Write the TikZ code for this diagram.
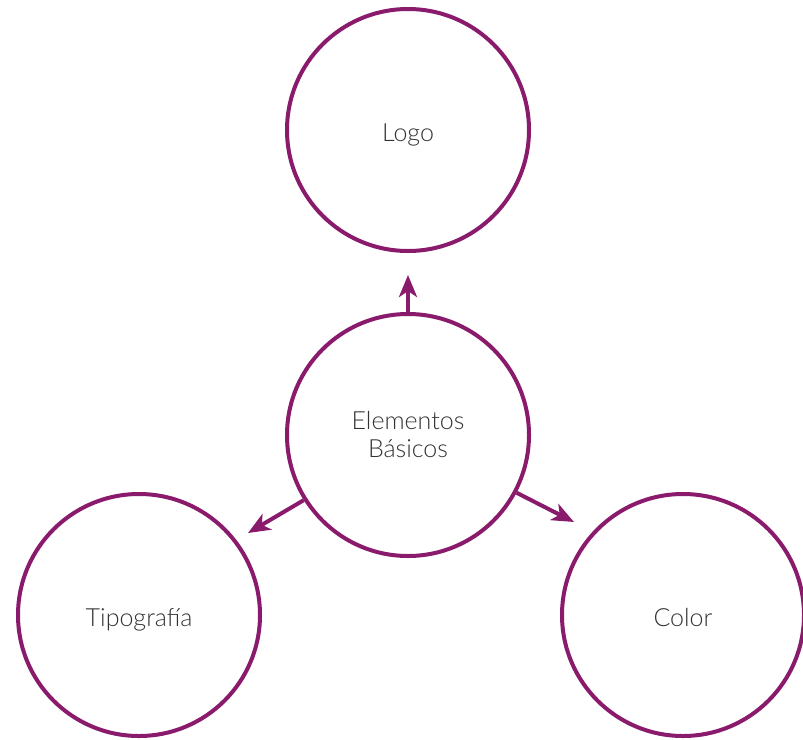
\documentclass[tikz,border=0pt]{standalone}
\usepackage{fontspec}
\setmainfont{Lato}[UprightFont=* Light]
\usetikzlibrary{arrows.meta}
\definecolor{ring}{HTML}{8A1A6C}
\definecolor{label}{HTML}{333333}
\newcommand{\drop}[2][-8pt]{\raisebox{#1}[0pt][0pt]{#2}}
\begin{document}
\begin{tikzpicture}[x=1pt,y=-1pt,
  bubble/.style={circle,draw=ring,line width=4pt,minimum size=242pt,inner sep=0pt,
    text=label,align=center,font=\fontsize{25}{28}\selectfont},
  link/.style={draw=ring,line width=4pt,-{Stealth[length=22pt,width=18pt,inset=6pt]}}]
\useasboundingbox (0,0) rectangle (803,739);
\node[bubble] (logo) at (408,130) {\drop[-11pt]{Logo}};
\node[bubble] (core) at (408,435) {\drop[-9pt]{\begin{tabular}{@{}c@{}}Elementos\\Básicos\end{tabular}}};
\node[bubble] (tipo) at (139,615) {\drop[-11pt]{Tipografía}};
\node[bubble] (color) at (683,615) {\drop[-11pt]{Color}};
\coordinate (tipLogo) at (408,275);
\coordinate (tipTipo) at (248,533);
\coordinate (tipColor) at (574,522);
\path[link] (core.90) -- (tipLogo);
\path[link] (core.212) -- (tipTipo);
\path[link] (core.-28) -- (tipColor);
\end{tikzpicture}
\end{document}
